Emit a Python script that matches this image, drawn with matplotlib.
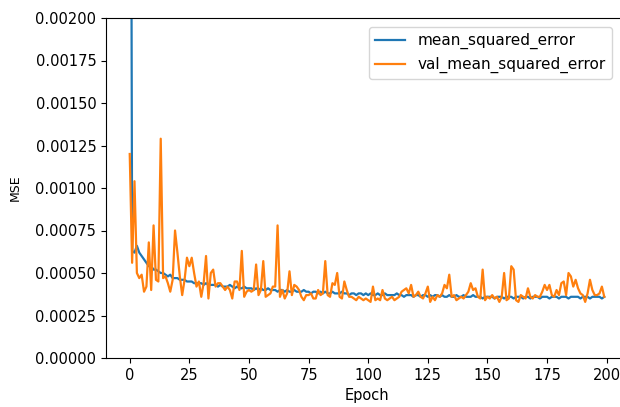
"""
Training history plot: train vs validation MSE per epoch.
"""

import numpy as np
import matplotlib
matplotlib.use("Agg")
import matplotlib.pyplot as plt

# values, one per epoch (0..199)
mean_squared_error = [
    0.0065, 0.00063, 0.00062, 0.00066, 0.00062, 0.00060, 0.00058, 0.00056, 0.00054, 0.00054,
    0.00052, 0.00052, 0.00051, 0.00050, 0.00050, 0.00049, 0.00048, 0.00049, 0.00047, 0.00047,
    0.00047, 0.00046, 0.00046, 0.00046, 0.00045, 0.00045, 0.00045, 0.00044, 0.00044, 0.00044,
    0.00044, 0.00043, 0.00044, 0.00043, 0.00043, 0.00043, 0.00043, 0.00042, 0.00043, 0.00042,
    0.00042, 0.00042, 0.00043, 0.00042, 0.00041, 0.00042, 0.00041, 0.00041, 0.00042, 0.00041,
    0.00041, 0.00041, 0.00040, 0.00041, 0.00040, 0.00041, 0.00040, 0.00040, 0.00041, 0.00040,
    0.00040, 0.00040, 0.00039, 0.00040, 0.00040, 0.00039, 0.00040, 0.00039, 0.00039, 0.00040,
    0.00039, 0.00039, 0.00039, 0.00040, 0.00039, 0.00039, 0.00038, 0.00039, 0.00039, 0.00038,
    0.00039, 0.00038, 0.00039, 0.00038, 0.00038, 0.00039, 0.00038, 0.00038, 0.00038, 0.00039,
    0.00038, 0.00038, 0.00037, 0.00038, 0.00038, 0.00037, 0.00038, 0.00038, 0.00037, 0.00038,
    0.00037, 0.00038, 0.00037, 0.00037, 0.00038, 0.00037, 0.00037, 0.00038, 0.00037, 0.00037,
    0.00037, 0.00037, 0.00038, 0.00037, 0.00037, 0.00036, 0.00037, 0.00037, 0.00037, 0.00036,
    0.00037, 0.00037, 0.00036, 0.00037, 0.00037, 0.00036, 0.00037, 0.00036, 0.00037, 0.00037,
    0.00036, 0.00037, 0.00036, 0.00036, 0.00037, 0.00036, 0.00036, 0.00037, 0.00036, 0.00036,
    0.00037, 0.00036, 0.00036, 0.00036, 0.00037, 0.00036, 0.00036, 0.00036, 0.00035, 0.00036,
    0.00036, 0.00036, 0.00036, 0.00035, 0.00036, 0.00036, 0.00036, 0.00035, 0.00036, 0.00036,
    0.00036, 0.00035, 0.00036, 0.00036, 0.00036, 0.00035, 0.00036, 0.00036, 0.00035, 0.00036,
    0.00036, 0.00036, 0.00035, 0.00036, 0.00036, 0.00036, 0.00035, 0.00036, 0.00036, 0.00036,
    0.00035, 0.00036, 0.00036, 0.00036, 0.00035, 0.00036, 0.00036, 0.00036, 0.00036, 0.00035,
    0.00036, 0.00036, 0.00036, 0.00035, 0.00036, 0.00036, 0.00036, 0.00036, 0.00035, 0.00036,
]

val_mean_squared_error = [
    0.00120, 0.00056, 0.00104, 0.00050, 0.00047, 0.00049, 0.00039, 0.00042, 0.00068, 0.00040,
    0.00078, 0.00046, 0.00045, 0.00129, 0.00047, 0.00048, 0.00044, 0.00039, 0.00046, 0.00075,
    0.00062, 0.00048, 0.00037, 0.00046, 0.00059, 0.00054, 0.00059, 0.00050, 0.00042, 0.00045,
    0.00036, 0.00044, 0.00060, 0.00035, 0.00050, 0.00052, 0.00042, 0.00044, 0.00044, 0.00042,
    0.00040, 0.00042, 0.00040, 0.00035, 0.00045, 0.00045, 0.00040, 0.00063, 0.00036, 0.00039,
    0.00040, 0.00039, 0.00040, 0.00055, 0.00037, 0.00040, 0.00057, 0.00036, 0.00037, 0.00038,
    0.00042, 0.00042, 0.00078, 0.00036, 0.00040, 0.00035, 0.00038, 0.00051, 0.00037, 0.00043,
    0.00042, 0.00040, 0.00036, 0.00034, 0.00037, 0.00037, 0.00038, 0.00035, 0.00035, 0.00040,
    0.00037, 0.00038, 0.00057, 0.00037, 0.00036, 0.00044, 0.00043, 0.00050, 0.00036, 0.00035,
    0.00045, 0.00040, 0.00036, 0.00036, 0.00035, 0.00034, 0.00036, 0.00035, 0.00034, 0.00035,
    0.00034, 0.00033, 0.00042, 0.00034, 0.00035, 0.00034, 0.00040, 0.00035, 0.00034, 0.00035,
    0.00036, 0.00034, 0.00035, 0.00036, 0.00039, 0.00040, 0.00041, 0.00038, 0.00043, 0.00036,
    0.00037, 0.00039, 0.00036, 0.00035, 0.00038, 0.00042, 0.00033, 0.00036, 0.00034, 0.00037,
    0.00036, 0.00038, 0.00043, 0.00041, 0.00049, 0.00036, 0.00037, 0.00034, 0.00035, 0.00036,
    0.00035, 0.00037, 0.00039, 0.00044, 0.00040, 0.00041, 0.00036, 0.00035, 0.00052, 0.00034,
    0.00036, 0.00035, 0.00037, 0.00035, 0.00036, 0.00033, 0.00036, 0.00050, 0.00034, 0.00035,
    0.00054, 0.00052, 0.00034, 0.00033, 0.00037, 0.00036, 0.00035, 0.00041, 0.00036, 0.00035,
    0.00037, 0.00036, 0.00036, 0.00039, 0.00043, 0.00040, 0.00043, 0.00037, 0.00036, 0.00040,
    0.00037, 0.00044, 0.00045, 0.00037, 0.00050, 0.00048, 0.00042, 0.00046, 0.00041, 0.00038,
    0.00037, 0.00033, 0.00038, 0.00046, 0.00040, 0.00037, 0.00037, 0.00038, 0.00042, 0.00036,
]

epochs = np.arange(len(mean_squared_error))

plt.rcParams["font.size"] = 10.5

fig = plt.figure(figsize=(6.2, 4.07), dpi=100)
# the reference is cropped on the right: the axes run past the figure edge
ax = fig.add_axes([106 / 620, 49 / 407, 522 / 620, 340 / 407])

ax.plot(epochs, mean_squared_error, color="#1f77b4", linewidth=1.6, label="mean_squared_error")
ax.plot(epochs, val_mean_squared_error, color="#ff7f0e", linewidth=1.6, label="val_mean_squared_error")

ax.set_ylim(0, 0.002)
ax.set_xlabel("Epoch")
ax.set_ylabel("MSE", fontsize=9)
ax.yaxis.set_label_coords(-0.161, 0.5)

# legend box pinned where it sits in the reference (its right edge is visible)
ax.legend(loc="upper right", fontsize=11, borderaxespad=0,
          bbox_to_anchor=(612 / 620, 1 - 27 / 407), bbox_transform=fig.transFigure)

fig.savefig("out.png", dpi=100)
